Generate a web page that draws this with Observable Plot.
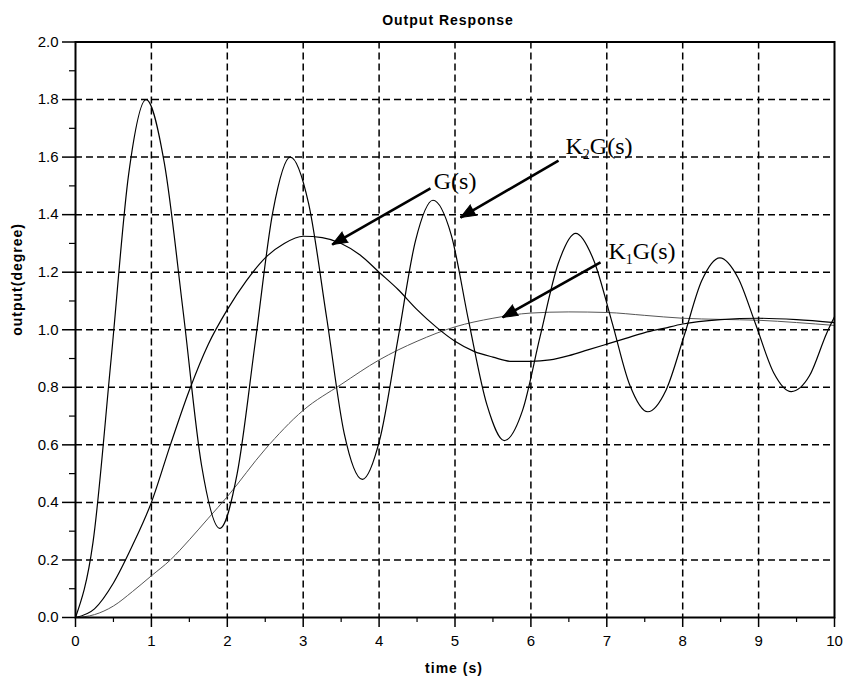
<!DOCTYPE html>
<html>
<head>
<meta charset="utf-8">
<script src="https://cdn.jsdelivr.net/npm/d3@7"></script>
<script src="https://cdn.jsdelivr.net/npm/@observablehq/plot@0.6"></script>
<style>
  body { margin: 0; background: #fff; }
  .lbl text { letter-spacing: 1px; }
</style>
</head>
<body>
<div id="chart"></div>
<script>
// ---- tick values ----
const xTicks = [0, 1, 2, 3, 4, 5, 6, 7, 8, 9, 10];
const xMinor = [0.5, 1.5, 2.5, 3.5, 4.5, 5.5, 6.5, 7.5, 8.5, 9.5];
const yTicks = [0, 0.2, 0.4, 0.6, 0.8, 1.0, 1.2, 1.4, 1.6, 1.8, 2.0];
const yMinor = [0.1, 0.3, 0.5, 0.7, 0.9, 1.1, 1.3, 1.5, 1.7, 1.9];

// ---- series ----
const tG = [0,0.25,0.5,0.75,1,1.25,1.5,1.75,2,2.25,2.5,2.75,3,3.25,3.5,3.75,4,4.25,4.5,4.75,5,5.25,5.5,5.75,6,6.25,6.5,6.75,7,7.25,7.5,7.75,8,8.5,9,9.5,10];
const yG = [0,0.03,0.12,0.25,0.40,0.60,0.79,0.95,1.07,1.17,1.25,1.30,1.325,1.32,1.30,1.26,1.20,1.14,1.07,1.01,0.96,0.925,0.905,0.89,0.89,0.895,0.91,0.93,0.95,0.97,0.99,1.005,1.02,1.035,1.04,1.035,1.025];

const tK1 = [0,0.25,0.5,0.75,1,1.25,1.5,1.75,2,2.5,3,3.5,4,4.5,5,5.5,6,6.5,7,7.5,8,8.5,9,9.5,10];
const yK1 = [0,0.01,0.04,0.09,0.145,0.20,0.27,0.345,0.42,0.585,0.72,0.81,0.895,0.96,1.01,1.04,1.058,1.062,1.06,1.05,1.04,1.036,1.033,1.025,1.015];

const tK2 = [0,0.23,0.47,0.70,0.93,1.17,1.42,1.66,1.90,2.13,2.37,2.60,2.83,3.07,3.31,3.54,3.78,4.01,4.25,4.48,4.71,4.95,5.18,5.42,5.65,5.89,6.12,6.36,6.59,6.83,7.07,7.30,7.54,7.78,8.02,8.25,8.49,8.73,8.96,9.20,9.43,9.67,9.90,10.0];
const yK2 = [0,0.26,0.90,1.54,1.80,1.58,1.06,0.53,0.31,0.50,0.96,1.41,1.60,1.44,1.04,0.64,0.48,0.62,0.97,1.31,1.45,1.33,1.03,0.74,0.615,0.72,0.975,1.23,1.335,1.24,1.025,0.81,0.715,0.79,0.98,1.17,1.25,1.18,1.02,0.85,0.785,0.84,0.99,1.045];

// ---- annotations (data units) ----
const labels = ["G(s)", "K2G(s)", "K1G(s)"];
const labelT = [4.72, 6.456, 7.022];
const labelY = [1.517, 1.639, 1.271];
const arrowT1 = [4.677, 6.364, 6.917];
const arrowY1 = [1.491, 1.588, 1.234];
const arrowT2 = [3.382, 5.072, 5.626];
const arrowY2 = [1.296, 1.390, 1.043];

const W = 849, H = 679;
const mL = 75, mR = 15, mT = 41.5, mB = 62;
const kx = (W - mL - mR) / 10, ky = (H - mT - mB) / 2;

const series = [
  {t: tK1, y: yK1, name: "K1G(s)"},
  {t: tG, y: yG, name: "G(s)"},
  {t: tK2, y: yK2, name: "K2G(s)"}
];
const rows = series.flatMap(s => s.t.map((t, i) => ({t, v: s.y[i], name: s.name})));
const idx = labels.map((_, i) => i);
const angle = idx.map(i => {
  const dx = (arrowT2[i] - arrowT1[i]) * kx;
  const dy = -(arrowY2[i] - arrowY1[i]) * ky;
  return Math.atan2(dx, -dy) * 180 / Math.PI;
});

function headMark(useSpike) {
  if (useSpike) {
    return Plot.vector(idx, {
      x: i => arrowT2[i], y: i => arrowY2[i], rotate: i => angle[i],
      length: 15, r: 6, shape: "spike", anchor: "end",
      fill: "#000", stroke: "#000", strokeWidth: 1
    });
  }
  return Plot.dot(idx, {
    x: i => arrowT2[i], y: i => arrowY2[i], rotate: i => angle[i],
    symbol: "triangle", r: 6, fill: "#000", stroke: "#000"
  });
}

function build(useSpike) {
  return Plot.plot({
    width: W, height: H,
    marginLeft: mL, marginRight: mR, marginTop: mT, marginBottom: mB,
    style: {fontFamily: "'Liberation Sans', Arial, sans-serif", fontSize: "15px", color: "#000", background: "#fff", overflow: "visible"},
    x: {domain: [0, 10]},
    y: {domain: [0, 2]},
    marks: [
      Plot.gridX(xTicks.slice(1, -1), {stroke: "#000", strokeOpacity: 1, strokeWidth: 1.5, strokeDasharray: "7,4"}),
      Plot.gridY(yTicks.slice(1, -1), {stroke: "#000", strokeOpacity: 1, strokeWidth: 1.5, strokeDasharray: "7,4"}),
      Plot.axisX(xMinor, {tickSize: 5, tickFormat: () => "", label: null, strokeWidth: 1.2}),
      Plot.axisY(yMinor, {tickSize: 6, tickFormat: () => "", label: null, strokeWidth: 1.2}),
      Plot.axisX(xTicks, {tickSize: 10, tickPadding: 8, tickFormat: d => String(d), label: null, strokeWidth: 1.5, fontSize: 15}),
      Plot.axisY(yTicks, {tickSize: 13, tickPadding: 4, tickFormat: d3.format(".1f"), label: null, strokeWidth: 1.5, fontSize: 15}),
      Plot.line(rows.filter(d => d.name === "K1G(s)"), {x: "t", y: "v", curve: "monotone-x", stroke: "#555", strokeWidth: 1}),
      Plot.line(rows.filter(d => d.name === "G(s)"), {x: "t", y: "v", curve: "monotone-x", stroke: "#000", strokeWidth: 1.2}),
      Plot.line(rows.filter(d => d.name === "K2G(s)"), {x: "t", y: "v", curve: "monotone-x", stroke: "#000", strokeWidth: 1.2}),
      Plot.frame({stroke: "#000", strokeWidth: 2}),
      Plot.link(idx, {x1: i => arrowT1[i], y1: i => arrowY1[i], x2: i => arrowT2[i], y2: i => arrowY2[i], stroke: "#000", strokeWidth: 2.6}),
      headMark(useSpike),
      Plot.text(idx, {x: i => labelT[i], y: i => labelY[i], text: i => labels[i], textAnchor: "start",
        fontSize: 24, fontFamily: "'Liberation Serif', 'Times New Roman', serif", fill: "#000", className: "ann"}),
      Plot.text(["Output Response"], {frameAnchor: "top", dy: -27, dx: -7, fontSize: 14, fontWeight: "bold", className: "lbl"}),
      Plot.text(["time (s)"], {frameAnchor: "bottom", dy: 55, dx: -1, fontSize: 14, fontWeight: "bold", className: "lbl"}),
      Plot.text(["output(degree)"], {frameAnchor: "left", dx: -58, dy: 6, rotate: -90, fontSize: 14, fontWeight: "bold", className: "lbl"})
    ]
  });
}

let chart;
try { chart = build(true); } catch (e) { chart = build(false); }

// subscripts for K1 / K2
chart.querySelectorAll(".ann text").forEach(el => {
  const m = el.textContent.match(/^K(\d)(.*)$/);
  if (!m) return;
  el.textContent = "K";
  const ns = "http://www.w3.org/2000/svg";
  const sub = document.createElementNS(ns, "tspan");
  sub.setAttribute("dy", "5");
  sub.setAttribute("font-size", "14");
  sub.textContent = m[1];
  const rest = document.createElementNS(ns, "tspan");
  rest.setAttribute("dy", "-5");
  rest.textContent = m[2];
  el.appendChild(sub);
  el.appendChild(rest);
});

document.getElementById("chart").appendChild(chart);
</script>
</body>
</html>
